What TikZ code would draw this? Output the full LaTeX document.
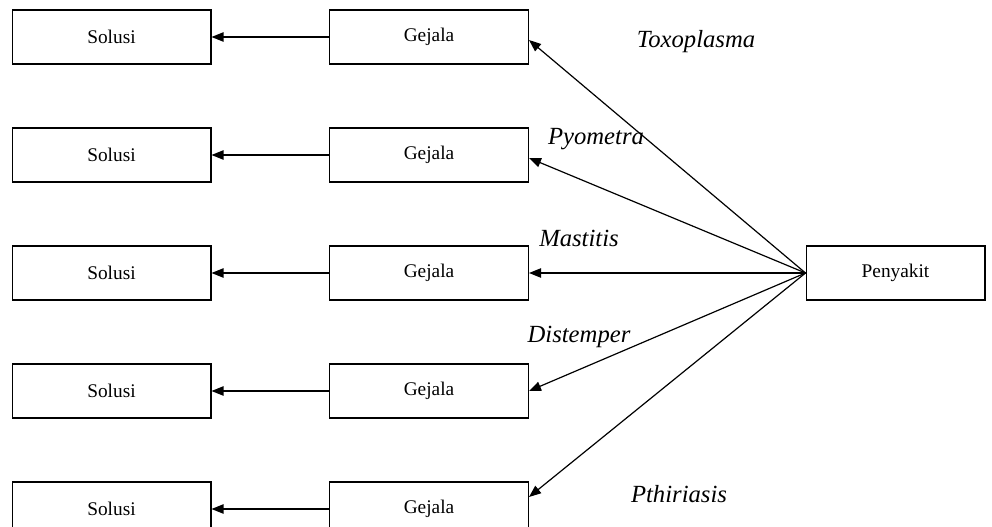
\documentclass[tikz,border=0pt]{standalone}
\usepackage{fontspec}
\setmainfont{Liberation Serif}
\usetikzlibrary{arrows.meta}

\tikzset{
  kotak/.style={draw, line width=1pt, minimum width=149pt, minimum height=40.5pt,
    inner sep=0pt, font=\fontsize{14.5}{16}\selectfont},
  panah/.style={-{Triangle[length=9pt,width=7pt]}, line width=0.9pt},
  label/.style={font=\fontsize{18.5}{21}\selectfont\itshape, inner sep=0pt}
}

\begin{document}
\begin{tikzpicture}[x=0.75pt,y=-0.75pt]
\useasboundingbox (0,0) rectangle (992,527);

\node[kotak] (solusi1) at (111.5,37) {Solusi};
\node[kotak] (gejala1) at (429,37) {Gejala};

\node[kotak] (solusi2) at (111.5,155) {Solusi};
\node[kotak] (gejala2) at (429,155) {Gejala};

\node[kotak] (solusi3) at (111.5,273) {Solusi};
\node[kotak] (gejala3) at (429,273) {Gejala};

\node[kotak] (solusi4) at (111.5,391) {Solusi};
\node[kotak] (gejala4) at (429,391) {Gejala};

\node[kotak] (solusi5) at (111.5,509) {Solusi};
\node[kotak] (gejala5) at (429,509) {Gejala};

\node[kotak, minimum width=134pt] (penyakit) at (895.5,273) {Penyakit};

% gejala ke solusi
\draw[panah] (gejala1) -- (solusi1);
\draw[panah] (gejala2) -- (solusi2);
\draw[panah] (gejala3) -- (solusi3);
\draw[panah] (gejala4) -- (solusi4);
\draw[panah] (gejala5) -- (solusi5);

% penyakit ke gejala
\draw[panah] (penyakit.west) -- ([yshift=-2.25pt]gejala1.east);
\draw[panah] (penyakit.west) -- ([yshift=-2.25pt]gejala2.east);
\draw[panah] (penyakit.west) -- (gejala3.east);
\draw[panah] (penyakit.west) -- (gejala4.east);
\draw[panah] (penyakit.west) -- ([yshift=9pt]gejala5.east);

\node[label] (toxo) at (696,42) {Toxoplasma};
\node[label] (pyo) at (596,139) {Pyometra};
\node[label] (mas) at (579,238) {Mastitis};
\node[label] (dis) at (579,337) {Distemper};
\node[label] (pth) at (679,494) {Pthiriasis};
\end{tikzpicture}
\end{document}
